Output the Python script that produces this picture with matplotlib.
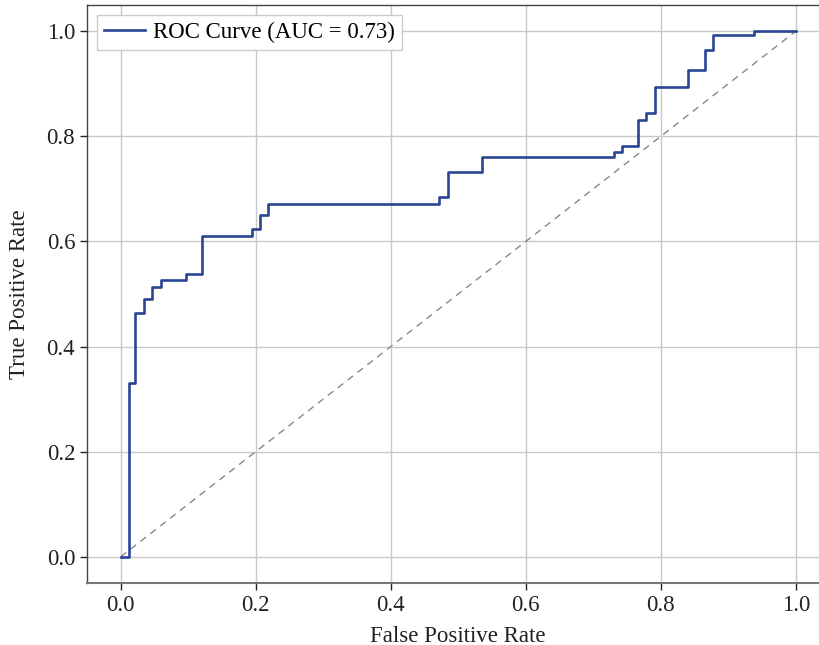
import matplotlib
matplotlib.use("Agg")
import matplotlib.pyplot as plt

fpr = [0.0, 0.012, 0.021, 0.034, 0.047, 0.060, 0.096, 0.121, 0.194, 0.207, 0.218,
       0.472, 0.485, 0.535, 0.731, 0.743, 0.766, 0.778, 0.791, 0.841, 0.866, 0.877,
       0.938, 1.0]
tpr = [0.0, 0.331, 0.464, 0.490, 0.514, 0.527, 0.539, 0.611, 0.623, 0.651, 0.672,
       0.685, 0.733, 0.760, 0.770, 0.782, 0.831, 0.844, 0.893, 0.927, 0.964, 0.992,
       1.0, 1.0]
auc_value = 0.73
ticks = [0.0, 0.2, 0.4, 0.6, 0.8, 1.0]

plt.rcParams['font.family'] = ['Liberation Serif', 'DejaVu Serif']

fig = plt.figure(figsize=(8.2, 6.45), dpi=100)
ax = fig.add_axes([87/820, 62/645, 742.5/820, 578/645])

ax.plot(fpr, tpr, drawstyle='steps-post', color='#2a4494', lw=1.9,
        label=f'ROC Curve (AUC = {auc_value:.2f})', zorder=3)
ax.plot([0, 1], [0, 1], linestyle=(0, (5, 4)), color='#888888', lw=1.0, zorder=2)

ax.set_xlim(-0.05, 1.05)
ax.set_ylim(-0.05, 1.05)
ax.set_xticks(ticks)
ax.set_yticks(ticks)
ax.set_xticklabels([f'{t:.1f}' for t in ticks])
ax.set_yticklabels([f'{t:.1f}' for t in ticks])
ax.grid(True, color='#c8c8c8', lw=1.0)
ax.set_axisbelow(True)
ax.tick_params(axis='both', labelsize=16.5, colors='#222222', length=5, width=1)
for s in ['left', 'top', 'right']:
    ax.spines[s].set_color('#444444')
    ax.spines[s].set_linewidth(1.0)
ax.spines['bottom'].set_color('#777777')
ax.spines['bottom'].set_linewidth(1.5)

ax.set_xlabel('False Positive Rate', fontsize=16.5, color='#222222', labelpad=7)
ax.set_ylabel('True Positive Rate', fontsize=16.5, color='#222222', labelpad=12)

leg = ax.legend(loc='upper left', fontsize=16.5, frameon=True, fancybox=False,
                edgecolor='#cccccc', framealpha=1.0, borderpad=0.3,
                handlelength=1.8, handletextpad=0.35, borderaxespad=0.45)
leg.get_frame().set_linewidth(1.0)

fig.savefig('out.png', dpi=100)
